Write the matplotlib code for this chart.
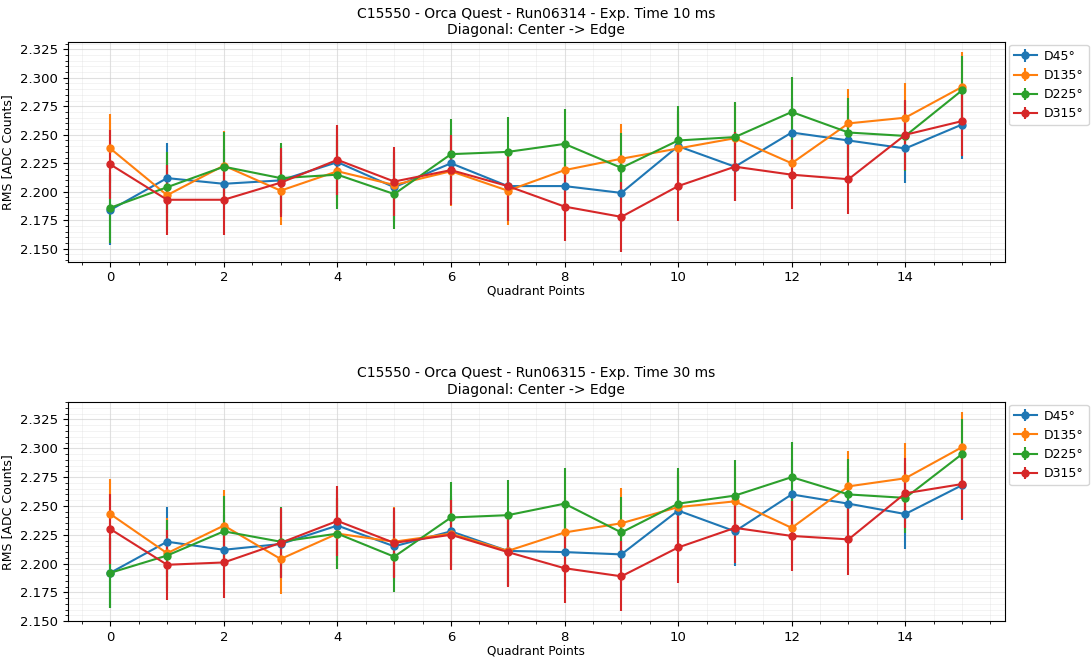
import matplotlib
matplotlib.use("Agg")
import matplotlib.pyplot as plt
import numpy as np

# quadrant points along the diagonal
points = np.arange(16)
labels = ["D45°", "D135°", "D225°", "D315°"]
colors = ["#1f77b4", "#ff7f0e", "#2ca02c", "#d62728"]
err = 0.0305

# Run06314 - 10 ms
run14_d45 = [2.184, 2.212, 2.207, 2.210, 2.226, 2.204, 2.225, 2.205, 2.205, 2.199, 2.240, 2.222, 2.252, 2.245, 2.238, 2.259]
run14_d135 = [2.238, 2.197, 2.223, 2.201, 2.218, 2.206, 2.218, 2.201, 2.219, 2.229, 2.238, 2.247, 2.225, 2.260, 2.265, 2.292]
run14_d225 = [2.186, 2.204, 2.222, 2.212, 2.215, 2.198, 2.233, 2.235, 2.242, 2.221, 2.245, 2.248, 2.270, 2.252, 2.249, 2.289]
run14_d315 = [2.224, 2.193, 2.193, 2.208, 2.228, 2.209, 2.219, 2.205, 2.187, 2.178, 2.205, 2.222, 2.215, 2.211, 2.250, 2.262]

# Run06315 - 30 ms
run15_d45 = [2.192, 2.219, 2.212, 2.217, 2.233, 2.215, 2.228, 2.211, 2.210, 2.208, 2.246, 2.228, 2.260, 2.252, 2.243, 2.268]
run15_d135 = [2.243, 2.209, 2.233, 2.204, 2.226, 2.219, 2.226, 2.211, 2.227, 2.235, 2.249, 2.254, 2.231, 2.267, 2.274, 2.301]
run15_d225 = [2.192, 2.207, 2.228, 2.219, 2.226, 2.206, 2.240, 2.242, 2.252, 2.227, 2.252, 2.259, 2.275, 2.260, 2.257, 2.295]
run15_d315 = [2.230, 2.199, 2.201, 2.218, 2.237, 2.218, 2.225, 2.210, 2.196, 2.189, 2.214, 2.231, 2.224, 2.221, 2.261, 2.269]

runs = [
    ("C15550 - Orca Quest - Run06314 - Exp. Time 10 ms\nDiagonal: Center -> Edge",
     [run14_d45, run14_d135, run14_d225, run14_d315]),
    ("C15550 - Orca Quest - Run06315 - Exp. Time 30 ms\nDiagonal: Center -> Edge",
     [run15_d45, run15_d135, run15_d225, run15_d315]),
]

fig, axes = plt.subplots(2, 1, figsize=(10.92, 6.59), dpi=100)
fig.subplots_adjust(left=0.062, right=0.920, top=0.936, bottom=0.057, hspace=0.64)

for ax, (title, series) in zip(axes, runs):
    for vals, lab, col in zip(series, labels, colors):
        ax.errorbar(points, vals, yerr=err, marker="o", markersize=5,
                    color=col, label=lab, linewidth=1.5)
    ax.set_title(title, fontsize=10)
    ax.set_xlabel("Quadrant Points", fontsize=8.7, labelpad=0)
    ax.set_ylabel("RMS [ADC Counts]", fontsize=9)
    ax.tick_params(labelsize=9.5)
    ax.minorticks_on()
    ax.grid(which="major", color="#cccccc", alpha=0.6)
    ax.grid(which="minor", color="#dddddd", alpha=0.4, linewidth=0.6)
    ax.legend(loc="upper left", bbox_to_anchor=(1.002, 1.0), fontsize=9,
              handlelength=1.8, borderaxespad=0.2, handletextpad=0.6)

fig.savefig("out.png", dpi=100)
